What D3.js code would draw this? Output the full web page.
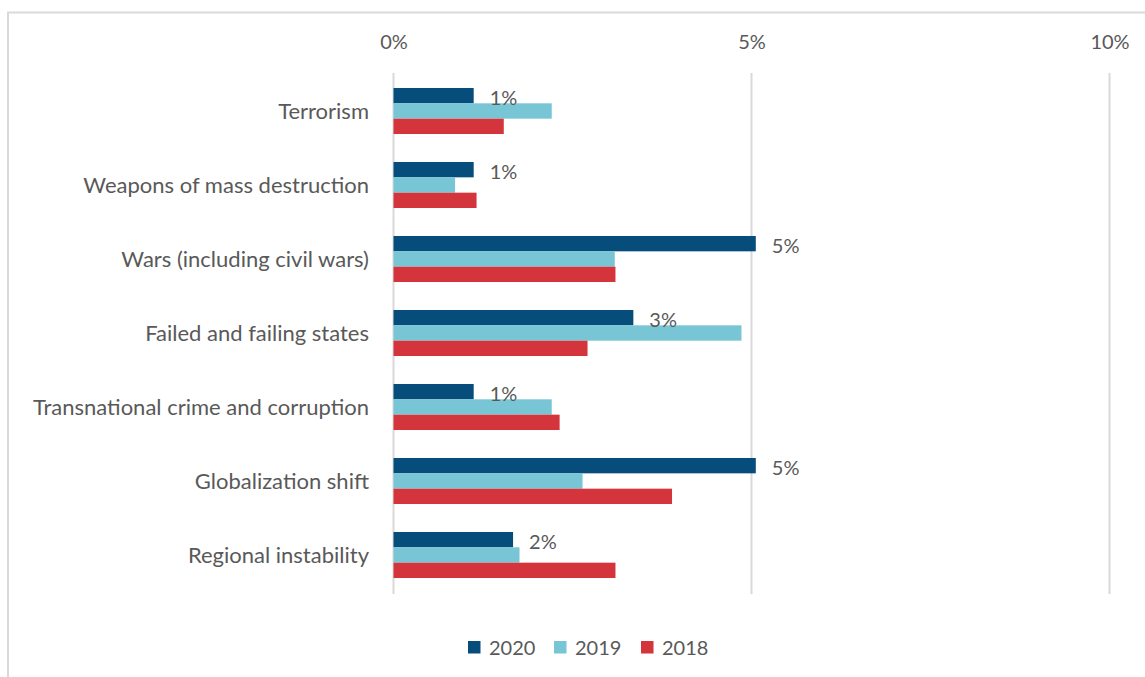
<!DOCTYPE html>
<html>
<head>
<meta charset="utf-8">
<script src="https://cdn.jsdelivr.net/npm/d3@7"></script>
<style>
  html, body { margin: 0; padding: 0; background: #fff; }
  svg { display: block; }
  text { font-family: Lato, "Open Sans", sans-serif; fill: #595959; }
</style>
</head>
<body>
<svg id="chart" width="1145" height="677"></svg>
<script>
const categories = [
  "Terrorism",
  "Weapons of mass destruction",
  "Wars (including civil wars)",
  "Failed and failing states",
  "Transnational crime and corruption",
  "Globalization shift",
  "Regional instability"
];
const seriesNames = ["2020", "2019", "2018"];
const values2020 = [1.12, 1.12, 5.06, 3.35, 1.12, 5.06, 1.67];
const values2019 = [2.21, 0.86, 3.09, 4.86, 2.21, 2.64, 1.76];
const values2018 = [1.54, 1.16, 3.10, 2.71, 2.32, 3.89, 3.10];
const tickValues = [0, 5, 10];
const seriesColors = ["#074d7c", "#77c5d5", "#d4343b"];

const seriesValues = [values2020, values2019, values2018];

const svg = d3.select("#chart");

// outer frame
svg.append("path")
  .attr("d", "M8,677 L8,12.5 L1145,12.5")
  .attr("fill", "none")
  .attr("stroke", "#d9d9d9")
  .attr("stroke-width", 2);

const x = d3.scaleLinear().domain([0, 10]).range([393.5, 1109.5]);
const y = d3.scaleBand().domain(categories).range([74, 592])
  .paddingInner(0.378).paddingOuter(0.189);
const ys = d3.scaleBand().domain(seriesNames).range([0, y.bandwidth()]);

// gridlines
svg.append("g").selectAll("line").data(tickValues).join("line")
  .attr("x1", d => x(d)).attr("x2", d => x(d))
  .attr("y1", 73).attr("y2", 594)
  .attr("stroke", "#d9d9d9").attr("stroke-width", 2);

// top axis tick labels
const axis = d3.axisTop(x).tickValues(tickValues).tickFormat(d => d + "%").tickSize(0);
const ag = svg.append("g").attr("transform", "translate(0,52)").call(axis);
ag.select(".domain").remove();
ag.selectAll("text").attr("font-size", 20).attr("fill", "#595959")
  .attr("font-family", "Lato, 'Open Sans', sans-serif").attr("dy", 0);

// category labels
svg.append("g").selectAll("text").data(categories).join("text")
  .attr("x", 369)
  .attr("y", d => y(d) + y.bandwidth() / 2)
  .attr("dy", "0.35em")
  .attr("text-anchor", "end")
  .attr("font-size", 22)
  .text(d => d);

// bars
const groups = svg.append("g").selectAll("g").data(seriesNames).join("g")
  .attr("fill", (d, i) => seriesColors[i]);
groups.each(function(s, si) {
  d3.select(this).selectAll("rect").data(categories).join("rect")
    .attr("x", x(0))
    .attr("y", c => y(c) + ys(s))
    .attr("width", (c, ci) => x(seriesValues[si][ci]) - x(0))
    .attr("height", ys.bandwidth());
});

// data labels on 2020
svg.append("g").selectAll("text").data(categories).join("text")
  .attr("x", (c, ci) => x(values2020[ci]) + 16)
  .attr("y", c => y(c) + ys("2020") + ys.bandwidth() / 2 + 2)
  .attr("dy", "0.35em")
  .attr("font-size", 20)
  .text((c, ci) => Math.round(values2020[ci]) + "%");

// legend
const legendX = [468, 554, 641];
const lg = svg.append("g").selectAll("g").data(seriesNames).join("g")
  .attr("transform", (d, i) => `translate(${legendX[i]},641)`);
lg.append("rect").attr("width", 12.5).attr("height", 12.5)
  .attr("fill", (d, i) => seriesColors[i]);
lg.append("text").attr("x", 21).attr("y", 6.5).attr("dy", "0.35em")
  .attr("font-size", 20).text(d => d);
</script>
</body>
</html>
